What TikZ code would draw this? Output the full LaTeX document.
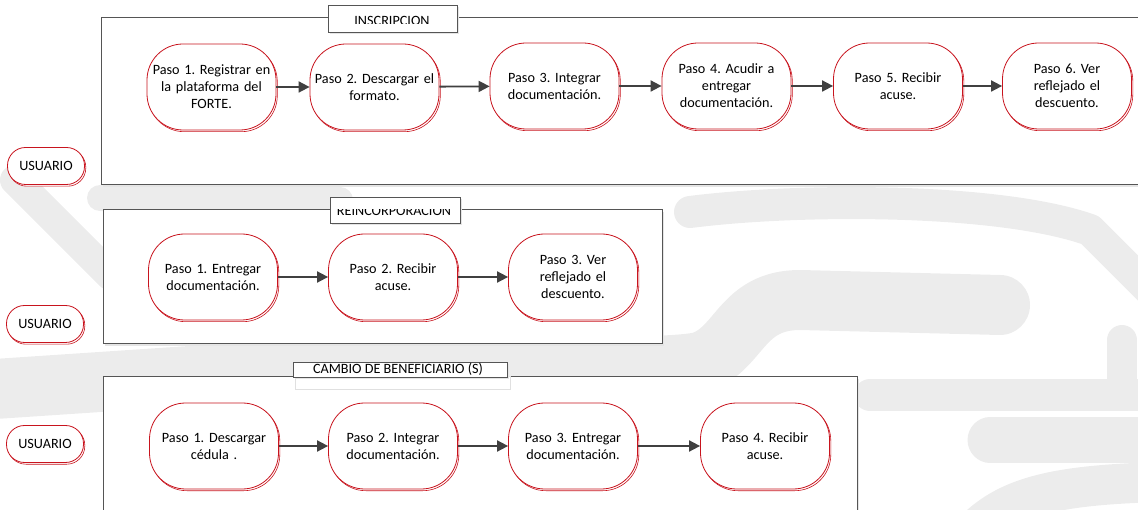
\documentclass[tikz,border=0pt]{standalone}
\usepackage{fontspec}
\setmainfont{Carlito}
\usetikzlibrary{arrows.meta,shadows}
\definecolor{nodered}{RGB}{200,20,30}
\definecolor{framegray}{RGB}{85,85,85}
\definecolor{arrowgray}{RGB}{64,64,64}
\definecolor{wm}{RGB}{236,236,236}
\begin{document}
\frenchspacing
\begin{tikzpicture}[x=1pt,y=-1pt,
  every node/.style={font=\fontsize{14.2}{17}\selectfont},
  stepbox/.style={draw=nodered, line width=0.8pt, fill=white, rounded corners=36pt,
    minimum width=129pt, minimum height=86pt, text width=125pt, inner xsep=2pt,
    inner ysep=0pt, align=center,
    general shadow={draw=nodered, fill=white, shadow xshift=1.3pt, shadow yshift=-1.7pt, line width=0.6pt}},
  userbox/.style={draw=nodered, line width=0.8pt, fill=white, rounded corners=18pt,
    minimum width=77pt, minimum height=37pt, inner sep=0pt,
    general shadow={draw=nodered, fill=white, shadow xshift=1.3pt, shadow yshift=-1.7pt, line width=0.6pt}},
  flow/.style={draw=arrowgray, line width=1.8pt, -{Triangle[length=11pt,width=11pt]}},
  panel/.style={draw=framegray, line width=1pt, fill=white,
    general shadow={draw=none, fill=black!10, shadow xshift=2pt, shadow yshift=-2.5pt}},
  titlebox/.style={draw=framegray, line width=0.9pt, fill=white,
    general shadow={draw=none, fill=black!10, shadow xshift=2pt, shadow yshift=-2.5pt}},
  titletext/.style={inner sep=0pt, anchor=base},
  wmark/.style={draw=wm, line cap=round, line join=round},
]
\useasboundingbox (0,0) rectangle (1138,510);
\clip (0,0) rectangle (1138,510);
% watermark (faint background logo)
\draw[wmark, line width=30pt] (15,180) -- (110,275);
\draw[wmark, line width=26pt] (100,198) -- (340,200);
\draw[wmark, line width=60pt] (-20,390) -- (250,372) .. controls (450,362) and (650,372) .. (700,362)
   .. controls (740,350) and (740,300) .. (800,300) -- (1000,305);
\draw[wmark, line width=32pt] (690,212) .. controls (800,198) and (1000,198) .. (1090,230) -- (1160,300);
\draw[wmark, line width=32pt] (870,395) -- (1160,395);
\draw[wmark, line width=45pt] (990,440) -- (1170,440);
\draw[wmark, line width=30pt] (1122,340) -- (1122,395);
\draw[wmark, line width=40pt] (975,530) .. controls (1010,495) and (1060,485) .. (1160,482);
% panels
\draw[panel] (101,18) rectangle (1160,185);
\draw[panel] (103,210) rectangle (662,344);
\draw[panel] (103,377) rectangle (857,530);
% title boxes
\draw[titlebox] (328,5) rectangle (457,32);
\begin{scope}
  \clip (328,5) rectangle (457,23.5);
  \node[titletext] (tins) at (392,26) {INSCRIPCION};
\end{scope}
\draw[titlebox] (330,197) rectangle (460,223);
\begin{scope}
  \clip (330,209.5) rectangle (460,223);
  \node[titletext] (trei) at (394,216) {REINCORPORACION};
\end{scope}
\draw[draw=black!12, line width=1pt] (295,377) rectangle (510,390);
\draw[titlebox, general shadow={draw=none}] (293,362) rectangle (507,377);
\node[titletext] (tcam) at (398,374) {CAMBIO DE BENEFICIARIO (S)};
% users
\node[userbox] (u1) at (46,166) {USUARIO};
\node[userbox] (u2) at (45,324) {USUARIO};
\node[userbox] (u3) at (45,444) {USUARIO};
% inscripcion
\node[stepbox] (i1) at (211.5,87) {Paso 1. Registrar en\\la plataforma del\\FORTE.};
\node[stepbox] (i2) at (374.5,87) {Paso 2. Descargar el\\formato.};
\node[stepbox] (i3) at (554.5,86) {Paso 3. Integrar\\documentación.};
\node[stepbox] (i4) at (726.5,86) {Paso 4. Acudir a\\entregar\\documentación.};
\node[stepbox] (i5) at (898,86) {Paso 5. Recibir\\acuse.};
\node[stepbox] (i6) at (1067,86) {Paso 6. Ver\\reflejado el\\descuento.};
\draw[flow] (i1) -- (i2);
\draw[flow] (i2) -- (i3);
\draw[flow] (i3) -- (i4);
\draw[flow] (i4) -- (i5);
\draw[flow] (i5) -- (i6);
% reincorporacion
\node[stepbox] (r1) at (213,277) {Paso 1. Entregar\\documentación.};
\node[stepbox] (r2) at (393,277) {Paso 2. Recibir\\acuse.};
\node[stepbox] (r3) at (573,277) {Paso 3. Ver\\reflejado el\\descuento.};
\draw[flow] (r1) -- (r2);
\draw[flow] (r2) -- (r3);
% cambio de beneficiario
\node[stepbox] (c1) at (214,446) {Paso 1. Descargar\\cédula .};
\node[stepbox] (c2) at (393,446) {Paso 2. Integrar\\documentación.};
\node[stepbox] (c3) at (573,446) {Paso 3. Entregar\\documentación.};
\node[stepbox] (c4) at (765,446) {Paso 4. Recibir\\acuse.};
\draw[flow] (c1) -- (c2);
\draw[flow] (c2) -- (c3);
\draw[flow] (c3) -- (c4);
\end{tikzpicture}
\end{document}
